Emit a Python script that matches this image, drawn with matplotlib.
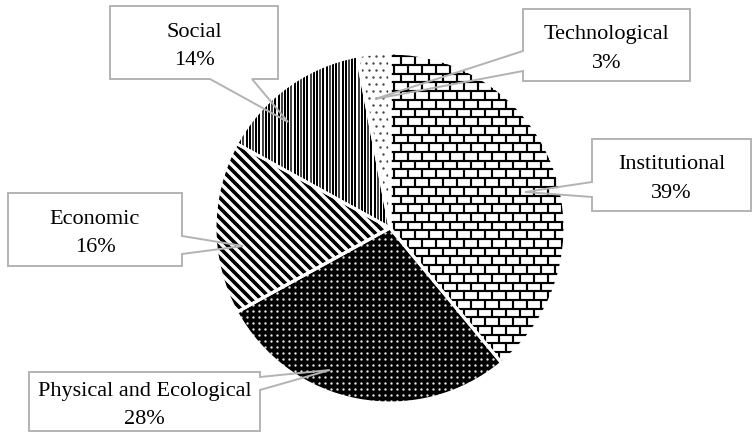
import numpy as np
import matplotlib
matplotlib.use("Agg")
import matplotlib.pyplot as plt
import matplotlib.patches as mpatches
from matplotlib.collections import LineCollection

# Shares of resilience dimensions
categories = ["Institutional", "Physical and Ecological", "Economic", "Social", "Technological"]
shares = [39, 28, 16, 14, 3]

W, H = 753, 435
fig = plt.figure(figsize=(W / 100, H / 100), dpi=100)
ax = fig.add_axes([0, 0, 1, 1])

cx, cy, R = 390, H - 229, 175
wedges, _ = ax.pie(shares, startangle=90, counterclock=False, center=(cx, cy),
                   radius=R, colors=["white", "black", "white", "white", "white"],
                   wedgeprops=dict(linewidth=0), frame=True)
ax.set_aspect("auto")
ax.set_xlim(0, W)
ax.set_ylim(0, H)
ax.axis("off")

x_lo, x_hi = cx - R - 10, cx + R + 10
y_lo, y_hi = cy - R - 10, cy + R + 10


def clip_lines(segs, wedge, **kw):
    lc = LineCollection(segs, zorder=2, **kw)
    ax.add_collection(lc)
    lc.set_clip_path(wedge)


def clip_dots(pts, wedge, **kw):
    sc = ax.scatter(pts[:, 0], pts[:, 1], linewidths=0, zorder=2, **kw)
    sc.set_clip_path(wedge)


# Institutional: brick pattern
row_h, brick_w = 8.7, 14.0
rows = np.arange(y_lo, y_hi, row_h)
segs = [[(x_lo, y), (x_hi, y)] for y in rows]
for k, y in enumerate(rows[:-1]):
    off = (k % 2) * brick_w / 2
    for x in np.arange(x_lo + off, x_hi, brick_w):
        segs.append([(x, y), (x, y + row_h)])
clip_lines(segs, wedges[0], colors="black", linewidths=1.55)

# Physical and Ecological: black with light dots
gx, gy = np.meshgrid(np.arange(x_lo, x_hi, 6.0), np.arange(y_lo, y_hi, 6.0))
clip_dots(np.column_stack([gx.ravel(), gy.ravel()]), wedges[1], s=3.0, c="#e6e6e6")

# Economic: thick diagonal stripes
segs = []
for c in np.arange(x_lo + y_lo - 400, x_hi + y_hi + 400, 10.0):
    segs.append([(c - y_lo, y_lo), (c - y_hi, y_hi)])
clip_lines(segs, wedges[2], colors="black", linewidths=2.6)

# Social: dense vertical lines
segs = [[(x, y_lo), (x, y_hi)] for x in np.arange(x_lo, x_hi, 3.2)]
cols = ["black" if i % 3 else "#444444" for i in range(len(segs))]
clip_lines(segs, wedges[3], colors=cols, linewidths=1.45)

# Technological: sparse small dots
pts = []
for k, y in enumerate(np.arange(y_lo, y_hi, 7.0)):
    off = (k % 2) * 3.5
    for x in np.arange(x_lo + off, x_hi, 7.0):
        pts.append((x, y))
clip_dots(np.array(pts), wedges[4], s=3.0, c="#444444")

# White separators between slices
for w in wedges:
    ax.add_patch(mpatches.Wedge(w.center, w.r, w.theta1, w.theta2, fill=False,
                                edgecolor="white", linewidth=2.2, zorder=3))

# Label boxes with callout pointers (top-origin pixel layout)
boxes = {
    "Social": ((110, 7, 278, 80), "bottom", (210, 252), (288, 123)),
    "Technological": ((523, 10, 690, 82), "left", (52, 72), (375, 100)),
    "Institutional": ((592, 140, 751, 212), "left", (183, 198), (525, 193)),
    "Economic": ((8, 194, 182, 267), "right", (237, 255), (243, 247)),
    "Physical and Ecological": ((29, 373, 260, 432), "right", (378, 391), (330, 371)),
}


def f(p):
    return (p[0], H - p[1])


edge_col = "#b3b3b3"
for name, share in zip(categories, shares):
    (x0, y0, x1, y1), side, (b1, b2), tip = boxes[name]
    if side == "bottom":
        pts = [(x0, y0), (x1, y0), (x1, y1), (b2, y1), tip, (b1, y1), (x0, y1)]
    elif side == "left":
        pts = [(x0, y0), (x1, y0), (x1, y1), (x0, y1), (x0, b2), tip, (x0, b1)]
    else:
        pts = [(x0, y0), (x1, y0), (x1, b1), tip, (x1, b2), (x1, y1), (x0, y1)]
    ax.add_patch(mpatches.Rectangle(f((x0, y1)), x1 - x0, y1 - y0, facecolor="white",
                                    edgecolor="none", zorder=3.5))
    ax.add_patch(mpatches.Polygon([f(p) for p in pts], closed=True, facecolor="none",
                                  edgecolor=edge_col, linewidth=1.4, zorder=4))
    ax.text((x0 + x1) / 2, H - (y0 + y1) / 2 - 3, f"{name}\n{share}%",
            ha="center", va="center", fontsize=16, family="Liberation Serif",
            color="black", linespacing=1.65, zorder=5)

fig.savefig("out.png", dpi=100)
